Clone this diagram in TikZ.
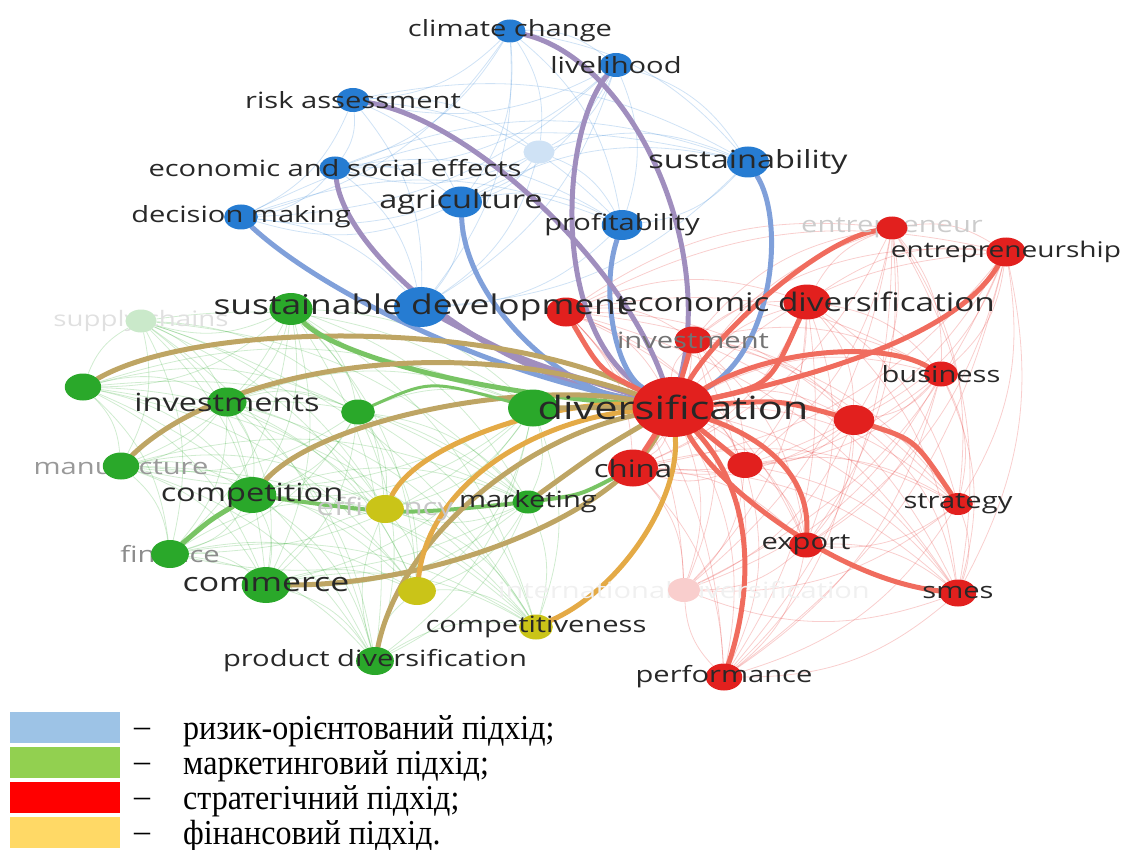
\documentclass[tikz,border=0pt]{standalone}
\usepackage{fontspec}
\usepackage{graphicx}
\setmainfont{Liberation Serif}
\newfontfamily\vosfont{Open Sans}
\usetikzlibrary{shapes.geometric}
\definecolor{vblue}{RGB}{38,124,210}
\definecolor{vgreen}{RGB}{42,168,42}
\definecolor{vred}{RGB}{226,32,30}
\definecolor{vyellow}{RGB}{202,196,24}
\definecolor{br}{RGB}{160,142,190}
\definecolor{bb}{RGB}{128,160,218}
\definecolor{gr}{RGB}{190,165,100}
\definecolor{gg}{RGB}{120,196,100}
\definecolor{rr}{RGB}{240,108,94}
\definecolor{yr}{RGB}{228,170,70}
\definecolor{ink}{RGB}{40,40,40}
\definecolor{lgblue}{RGB}{157,195,230}
\definecolor{lggreen}{RGB}{146,208,80}
\definecolor{lgred}{RGB}{255,0,0}
\definecolor{lgyellow}{RGB}{255,217,102}
\newcommand{\kw}[2]{\scalebox{1.3}[1]{\fontsize{#1}{#1}\selectfont #2}}
\pgfdeclarelayer{bg}
\pgfsetlayers{bg,main}

\begin{document}
\begin{tikzpicture}[x=1pt, y=-1pt]
  \tikzset{
    dot/.style={ellipse, inner sep=0pt, minimum height=#1, minimum width=1.35*#1},
    txt/.style={font=\vosfont, text=ink, inner sep=0pt},
    link/.style={draw=#1, line width=5pt, line cap=round},
    haze/.style={draw=#1, line width=0.8pt, opacity=0.22},
    swatch/.style={minimum width=110, minimum height=31, inner sep=0pt}
  }
  \useasboundingbox (0,0) rectangle (1126,850);

  % risk cluster
  \node[dot=23, fill=vblue, label={[txt]center:\kw{22.4}{climate change}}] (cc) at (510,31) {};
  \node[dot=24, fill=vblue, label={[txt]center:\kw{22.4}{livelihood}}] (lh) at (616,65) {};
  \node[dot=24, fill=vblue, label={[txt]center:\kw{22.4}{risk assessment}}] (ra) at (353,100) {};
  \node[dot=23, fill=vblue!22] (fb) at (539,152) {};
  \node[dot=23, fill=vblue, label={[txt]center:\kw{22.4}{economic and social effects}}] (ese) at (335,168) {};
  \node[dot=31, fill=vblue, label={[txt]center:\kw{25}{agriculture}}] (agr) at (461,202) {};
  \node[dot=25, fill=vblue, label={[txt]center:\kw{22.4}{decision making}}] (dm) at (241,217) {};
  \node[dot=31, fill=vblue, label={[txt]center:\kw{25}{sustainability}}] (sus) at (748,162) {};
  \node[dot=30, fill=vblue, label={[txt]center:\kw{22.4}{profitability}}] (prof) at (622,225) {};

  % marketing cluster
  \node[dot=32, fill=vgreen] (gsd) at (291,309) {};
  \node[dot=29, fill=vred] (rsd) at (566,312) {};
  \node[dot=40, fill=vblue, label={[txt]center:\kw{27.2}{sustainable development}}] (sd) at (421,307) {};
  \node[dot=27, fill=vgreen] (g1) at (83,387) {};
  \node[dot=23, fill=vgreen!25] (sc) at (141,321) {};
  \node[dot=29, fill=vgreen, label={[txt]center:\kw{25}{investments}}] (inv) at (227,402) {};
  \node[dot=25, fill=vgreen] (g2) at (358,412) {};
  \node[dot=37, fill=vgreen] (gbig) at (533,408) {};
  \node[dot=27, fill=vgreen] (man) at (121,466) {};
  \node[dot=36, fill=vgreen, label={[txt]center:\kw{25}{competition}}] (comp) at (252,495) {};
  \node[dot=23, fill=vgreen, label={[txt]center:\kw{22.4}{marketing}}] (mkt) at (528,502) {};
  \node[dot=28, fill=vgreen] (fin) at (170,554) {};
  \node[dot=36, fill=vgreen, label={[txt]center:\kw{26}{commerce}}] (com) at (266,585) {};
  \node[dot=28, fill=vgreen, label={[txt]center:\kw{22.4}{product diversification}}] (pd) at (375,661) {};

  % finance cluster
  \node[dot=28, fill=vyellow] (eff) at (385,509) {};
  \node[dot=28, fill=vyellow] (y1) at (417,591) {};
  \node[dot=25, fill=vyellow, label={[txt]center:\kw{22.4}{competitiveness}}] (cpt) at (536,627) {};

  % strategy cluster
  \node[dot=60, fill=vred, label={[txt]center:\kw{32}{diversification}}] (div) at (673,407) {};
  \node[dot=27, fill=vred, label={[txt, text=black!55]center:\kw{22.4}{investment}}] (ivt) at (693,340) {};
  \node[dot=35, fill=vred, label={[txt]center:\kw{25.6}{economic diversification}}] (ed) at (807,302) {};
  \node[dot=23, fill=vred] (ent) at (892,228) {};
  \node[dot=29, fill=vred, label={[txt]center:\kw{21.6}{entrepreneurship}}] (ents) at (1006,252) {};
  \node[dot=25, fill=vred, label={[txt]center:\kw{22.4}{business}}] (bus) at (941,374) {};
  \node[dot=30, fill=vred] (r1) at (854,420) {};
  \node[dot=26, fill=vred] (r2) at (745,465) {};
  \node[dot=37, fill=vred, label={[txt]center:\kw{24}{china}}] (chn) at (633,468) {};
  \node[dot=22, fill=vred, label={[txt]center:\kw{22.4}{strategy}}] (str) at (958,504) {};
  \node[dot=25, fill=vred, label={[txt]center:\kw{22.4}{export}}] (exp) at (806,545) {};
  \node[dot=27, fill=vred, label={[txt]center:\kw{22.4}{smes}}] (sm) at (958,593) {};
  \node[dot=27, fill=vred, label={[txt]center:\kw{22.4}{performance}}] (perf) at (724,677) {};
  \node[dot=24, fill=vred!22] (pk) at (684,590) {};

  \begin{pgfonlayer}{bg}
    % faint background links
    \foreach \a [count=\i] in {cc,lh,ra,fb,ese,agr,dm,sus,prof,sd}
      \foreach \b [count=\j] in {cc,lh,ra,fb,ese,agr,dm,sus,prof,sd}
        {\ifnum\j>\i \draw[haze=vblue] (\a) to[bend left=20] (\b); \fi}
    \foreach \a [count=\i] in {gsd,g1,sc,inv,g2,gbig,man,comp,mkt,fin,com,pd,eff,y1,cpt}
      \foreach \b [count=\j] in {gsd,g1,sc,inv,g2,gbig,man,comp,mkt,fin,com,pd,eff,y1,cpt}
        {\ifnum\j>\i \draw[haze=vgreen] (\a) to[bend left=20] (\b); \fi}
    \foreach \a [count=\i] in {rsd,div,ivt,ed,ent,ents,bus,r1,r2,chn,str,exp,sm,perf,pk}
      \foreach \b [count=\j] in {rsd,div,ivt,ed,ent,ents,bus,r1,r2,chn,str,exp,sm,perf,pk}
        {\ifnum\j>\i \draw[haze=vred] (\a) to[bend left=20] (\b); \fi}

    % risk links
    \draw[link=br] (cc) .. controls (630,60) and (715,240) .. (div);
    \draw[link=br] (lh) .. controls (560,130) and (550,330) .. (div);
    \draw[link=bb] (sus) .. controls (785,220) and (775,350) .. (div);
    \draw[link=bb] (prof) .. controls (600,290) and (615,370) .. (div);
    \draw[link=br] (ra) .. controls (470,120) and (620,260) .. (div);
    \draw[link=br] (ese) .. controls (345,250) and (480,370) .. (div);
    \draw[link=bb] (agr) .. controls (465,300) and (560,390) .. (div);
    \draw[link=bb] (dm) .. controls (320,290) and (480,370) .. (div);
    \draw[link=br] (sd) .. controls (520,360) .. (div);

    % marketing and finance links
    \draw[link=gr] (g1) .. controls (200,320) and (500,320) .. (div);
    \draw[link=gg] (gsd) .. controls (330,350) and (450,390) .. (div);
    \draw[link=gr] (man) .. controls (220,370) and (450,330) .. (div);
    \draw[link=gr] (comp) .. controls (320,420) and (520,380) .. (div);
    \draw[link=gg] (fin) .. controls (210,520) .. (comp);
    \draw[link=gg, line width=4pt] (comp) .. controls (400,515) .. (mkt);
    \draw[link=gg, line width=4pt] (mkt) .. controls (580,495) .. (chn);
    \draw[link=gr] (com) .. controls (430,585) and (610,520) .. (div);
    \draw[link=gr] (pd) .. controls (400,540) and (520,440) .. (div);
    \draw[link=yr] (y1) .. controls (430,480) and (540,420) .. (div);
    \draw[link=yr] (eff) .. controls (420,440) and (560,400) .. (div);
    \draw[link=yr] (cpt) .. controls (620,590) and (680,500) .. (div);
    \draw[link=gr] (mkt) .. controls (600,450) .. (div);
    \draw[link=gg, line width=3pt] (g2) .. controls (430,380) .. (gbig);
    \draw[link=gr] (gbig) -- (div);

    % strategy links
    \draw[link=rr] (div) -- (ivt);
    \draw[link=rr] (div) .. controls (770,385) .. (ed);
    \draw[link=rr] (div) .. controls (720,330) and (820,240) .. (ent);
    \draw[link=rr] (div) .. controls (840,370) and (960,330) .. (ents);
    \draw[link=rr] (div) .. controls (770,350) and (880,340) .. (bus);
    \draw[link=rr] (div) .. controls (780,400) .. (r1);
    \draw[link=rr] (r1) .. controls (915,440) .. (str);
    \draw[link=rr] (div) -- (r2);
    \draw[link=rr] (div) -- (chn);
    \draw[link=rr] (div) .. controls (770,440) and (810,480) .. (exp);
    \draw[link=rr] (div) .. controls (720,490) and (840,580) .. (sm);
    \draw[link=rr] (div) .. controls (760,500) and (750,600) .. (perf);
    \draw[link=rr] (rsd) .. controls (600,370) .. (div);

    % faded labels
    \node[txt, text=black!12] (sc-t) at (sc) {\kw{21.3}{supply chains}};
    \node[txt, text=black!40] (man-t) at (man) {\kw{22.4}{manufacture}};
    \node[txt, text=black!45] (fin-t) at (fin) {\kw{22.4}{finance}};
    \node[txt, text=black!22] (eff-t) at (eff) {\kw{24}{efficiency}};
    \node[txt, text=black!20] (ent-t) at (ent) {\kw{22.4}{entrepreneur}};
    \node[txt, text=black!6] (pk-t) at (pk) {\kw{22.4}{international diversification}};
  \end{pgfonlayer}

  % legend
  \foreach \c/\t [count=\k] in {lgblue/{ризик-орієнтований підхід;}, lggreen/{маркетинговий підхід;},
      lgred/{стратегічний підхід;}, lgyellow/{фінансовий підхід.}} {
    \node[swatch, fill=\c] (sw\k) at (65,692+35*\k) {};
    \node[font=\fontsize{32}{32}\selectfont, inner sep=0pt] (dash\k) at (142,697+35*\k) {--};
    \node[font=\fontsize{35}{35}\selectfont, inner sep=0pt, anchor=base west] (lg\k) at (183,704+35*\k)
      {\scalebox{0.915}[1]{\t}};
  }
\end{tikzpicture}
\end{document}
